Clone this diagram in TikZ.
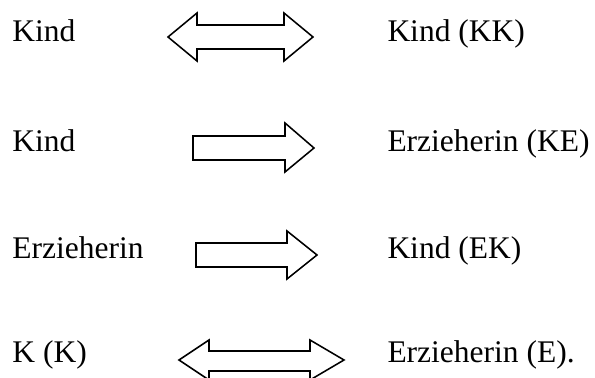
\documentclass[tikz,border=0pt]{standalone}
\usepackage{fontspec}
\setmainfont{Liberation Serif}
\usepackage{tikz}

\tikzset{
  word/.style={anchor=base west,inner sep=0pt,font=\fontsize{12.6}{15}\selectfont},
  blockarrow/.style={draw=black,fill=white,line width=0.62pt,miter limit=10}
}

\begin{document}
\begin{tikzpicture}[x=0.4pt,y=-0.4pt]
  \useasboundingbox (0,0) rectangle (595,378);
  % left and right words, one row per relation
  \node[word] (kindA)   at (12,42)  {Kind};
  \node[word] (kindKK)  at (387,42) {Kind (KK)};
  \node[word] (kindB)   at (12,152) {Kind};
  \node[word] (erzKE)   at (387,152) {Erzieherin (KE)};
  \node[word] (erzA)    at (12,259) {Erzieherin};
  \node[word] (kindEK)  at (387,259) {Kind (EK)};
  \node[word] (kk)      at (12,363) {K (K)};
  \node[word] (erzE)    at (387,363) {Erzieherin (E).};
  % both ways: Kind -- Kind
  \draw[blockarrow] (168,37) -- (197,13) -- (197,25) -- (284,25) -- (284,13) -- (313,37)
    -- (284,61) -- (284,49) -- (197,49) -- (197,61) -- cycle;
  % one way: Kind -> Erzieherin
  \draw[blockarrow] (193,136) -- (285,136) -- (285,123) -- (314,148) -- (285,172)
    -- (285,160) -- (193,160) -- cycle;
  % one way: Erzieherin -> Kind
  \draw[blockarrow] (196,243) -- (287,243) -- (287,231) -- (317,255) -- (287,279)
    -- (287,267) -- (196,267) -- cycle;
  % both ways: K -- E
  \draw[blockarrow] (179,360) -- (209,340) -- (209,351) -- (310,351) -- (310,340) -- (344,360)
    -- (310,380) -- (310,371) -- (209,371) -- (209,380) -- cycle;
\end{tikzpicture}
\end{document}
